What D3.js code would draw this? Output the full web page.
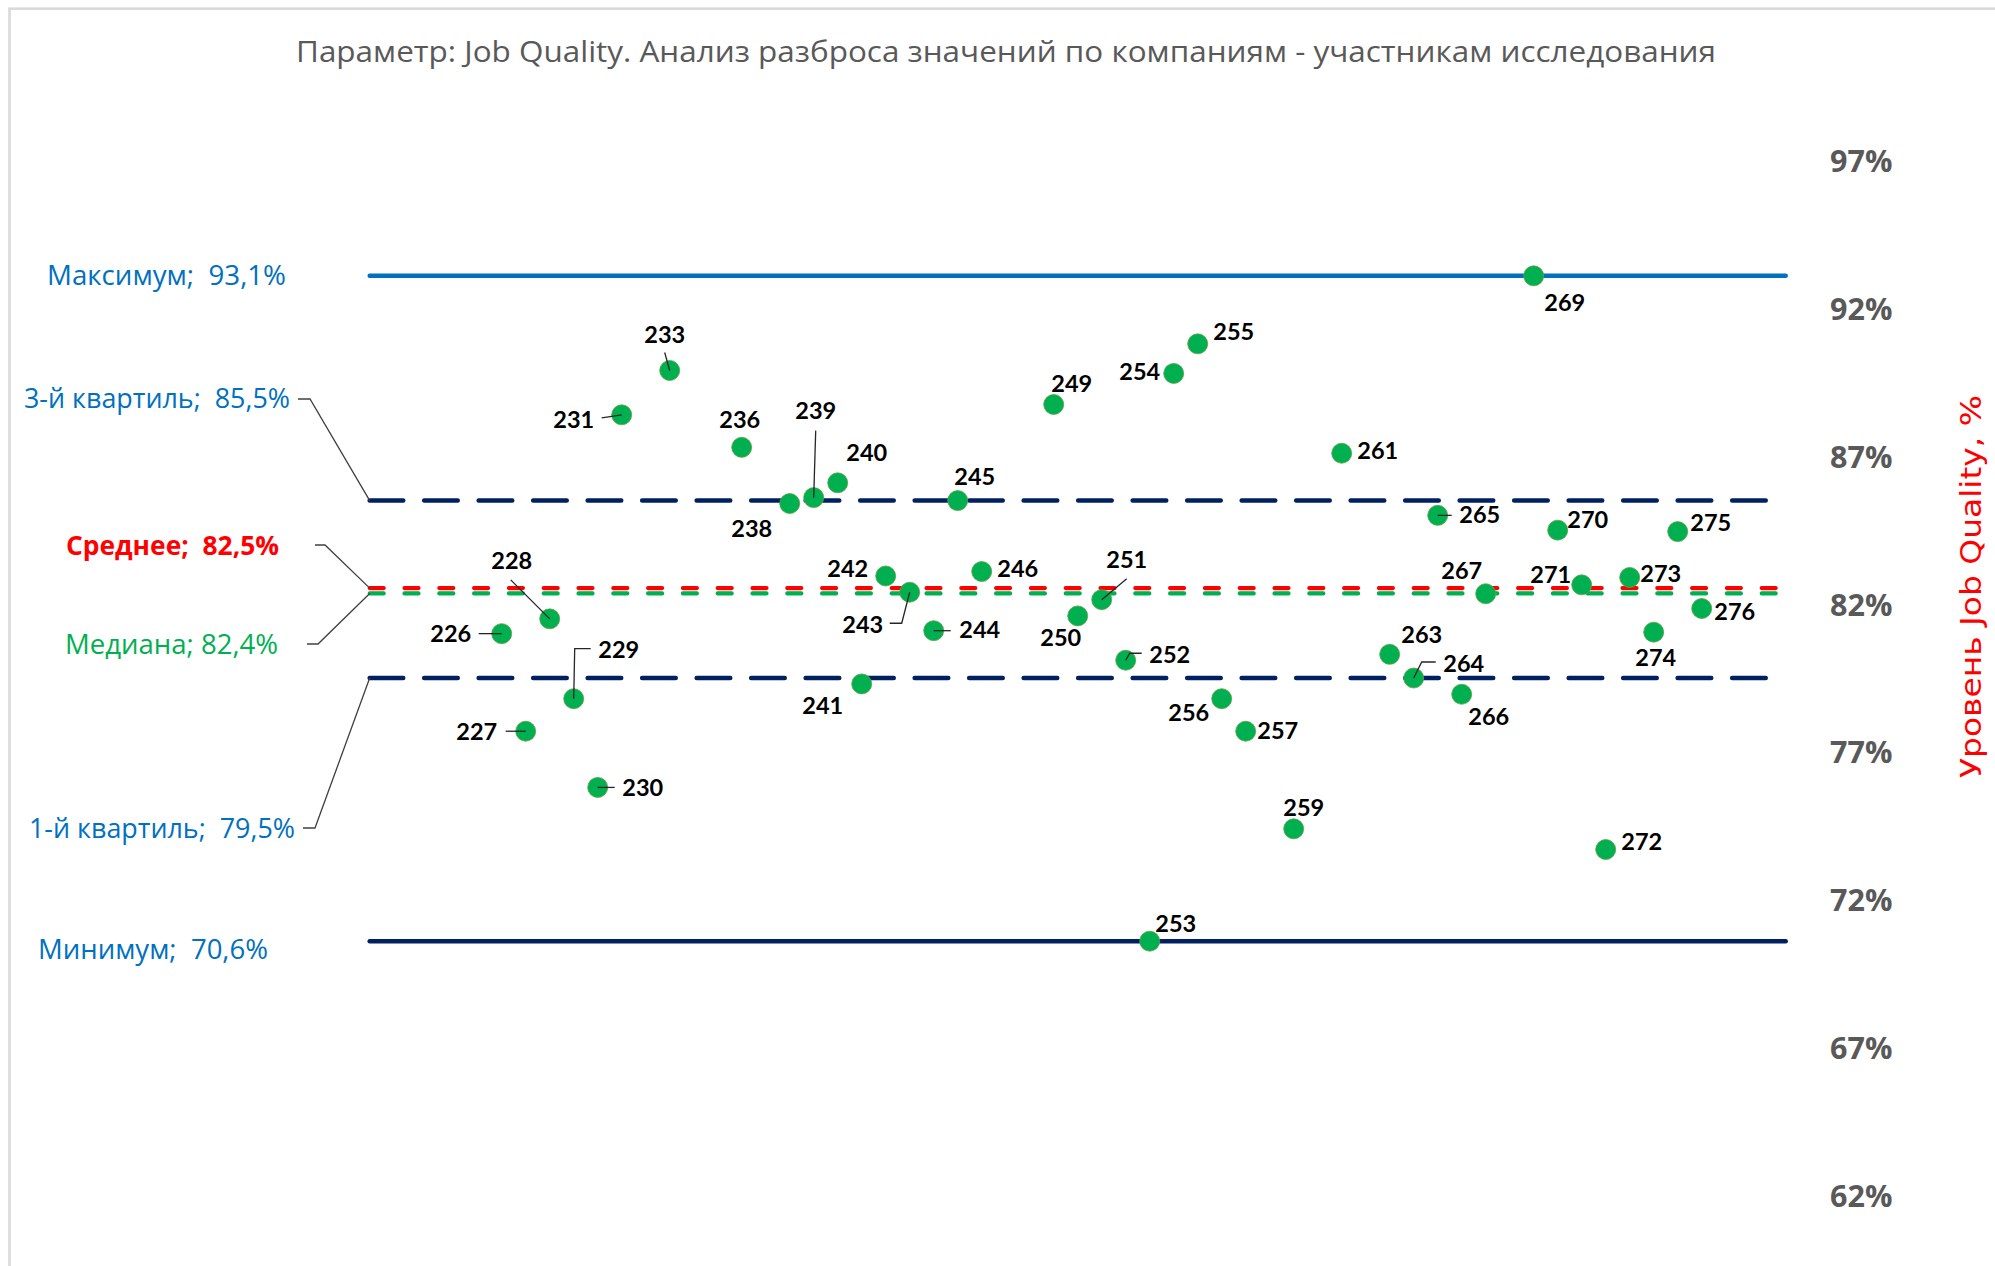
<!DOCTYPE html>
<html lang="ru">
<head>
<meta charset="utf-8">
<title>Job Quality — разброс значений по компаниям</title>
<script src="https://cdn.jsdelivr.net/npm/d3@7/dist/d3.min.js"></script>
<style>
  html, body { margin: 0; padding: 0; background: #ffffff; }
  svg { display: block; }
  text { white-space: pre; }
</style>
</head>
<body>
<script>
// ---- Data -----------------------------------------------------------------
const chartTitle = "Параметр: Job Quality. Анализ разброса значений по компаниям - участникам исследования";
const axisTitle = "Уровень Job Quality, %";

// Company codes (participants) and their Job Quality level
const companyIds = [226, 227, 228, 229, 230, 231, 233, 236, 238, 239, 240, 241, 242, 243, 244,
  245, 246, 249, 250, 251, 252, 253, 254, 255, 256, 257, 259, 261, 263, 264, 265, 266, 267,
  269, 270, 271, 272, 273, 274, 275, 276];
const jobQuality = [0.810, 0.777, 0.815, 0.788, 0.758, 0.884, 0.899, 0.873, 0.854, 0.856, 0.861,
  0.793, 0.8295, 0.824, 0.811, 0.855, 0.831, 0.8875, 0.816, 0.8215, 0.801, 0.706, 0.898, 0.908,
  0.788, 0.777, 0.744, 0.871, 0.803, 0.795, 0.850, 0.7895, 0.8235, 0.931, 0.845, 0.8265, 0.737,
  0.829, 0.8105, 0.8445, 0.8185];

// Summary statistics drawn as horizontal reference lines
const statNames = ["Максимум", "3-й квартиль", "Среднее", "Медиана", "1-й квартиль", "Минимум"];
const statValues = [0.931, 0.855, 0.8254, 0.8236, 0.795, 0.706];

// Right axis ticks
const yTicks = [0.62, 0.67, 0.72, 0.77, 0.82, 0.87, 0.92, 0.97];

// Company-code extent covered by the reference lines
const lineSpan = [220.5, 279.5];

// ---- Layout & styles ----------------------------------------------------
const W = 1995, H = 1266;
const labelFont = "Lato, 'Open Sans', sans-serif";
const textFont = "'Open Sans', 'Noto Sans', sans-serif";

const statStyles = [
  { color: "#0070C0", stroke: "#0070C0", width: 4.5, dash: null,        bold: false, sep: ";  " },
  { color: "#0070C0", stroke: "#002060", width: 4.6, dash: "33.5,21",   bold: false, sep: ";  " },
  { color: "#FF0000", stroke: "#FF0000", width: 4.2, dash: "14,20.8",   bold: true,  sep: ";  " },
  { color: "#00B050", stroke: "#00B050", width: 4.2, dash: "14,20.8",   bold: false, sep: "; " },
  { color: "#0070C0", stroke: "#002060", width: 4.6, dash: "33.5,21",   bold: false, sep: ";  " },
  { color: "#0070C0", stroke: "#002060", width: 4.5, dash: null,        bold: false, sep: ";  " }
];
// left-side caption placement: x, baseline, rendered width, optional leader start [x, y, elbowX]
const statLabelLayout = [
  { x: 47, base: 285, w: 239 },
  { x: 24, base: 408, w: 266, lead: [298, 399, 310] },
  { x: 66, base: 555, w: 213, lead: [315, 545, 325] },
  { x: 65, base: 654, w: 213, lead: [307, 644, 318] },
  { x: 29, base: 838, w: 266, lead: [303, 828, 315] },
  { x: 38, base: 959, w: 230 }
];

// data label offsets from the marker centre, with optional leader polylines
const labelLayout = {
  226: { dx: -51, dy: 0,   lead: [[-23, 0]] },
  227: { dx: -49, dy: 0,   lead: [[-20, 0]] },
  228: { dx: -38, dy: -58, lead: [[-39, -39]] },
  229: { dx: 45,  dy: -49, lead: [[1, -50], [17, -50]] },
  230: { dx: 45,  dy: 0,   lead: [[17, 0]] },
  231: { dx: -48, dy: 5,   lead: [[-20, 3]] },
  233: { dx: -5,  dy: -36, lead: [[-5, -18]] },
  236: { dx: -2,  dy: -28 },
  238: { dx: -38, dy: 25 },
  239: { dx: 2,   dy: -87, lead: [[2, -67]] },
  240: { dx: 29,  dy: -30 },
  241: { dx: -39, dy: 22 },
  242: { dx: -38, dy: -7 },
  243: { dx: -47, dy: 32,  lead: [[-8, 31], [-20, 31]] },
  244: { dx: 46,  dy: -1,  lead: [[17, 0]] },
  245: { dx: 17,  dy: -24 },
  246: { dx: 36,  dy: -3 },
  249: { dx: 18,  dy: -21 },
  250: { dx: -17, dy: 22 },
  251: { dx: 25,  dy: -40, lead: [[25, -21]] },
  252: { dx: 44,  dy: -6,  lead: [[4, -7], [16, -7]] },
  253: { dx: 26,  dy: -18 },
  254: { dx: -34, dy: -2 },
  255: { dx: 36,  dy: -12 },
  256: { dx: -33, dy: 14 },
  257: { dx: 32,  dy: -1 },
  259: { dx: 10,  dy: -21 },
  261: { dx: 36,  dy: -3 },
  263: { dx: 32,  dy: -20 },
  264: { dx: 50,  dy: -14, lead: [[8, -16], [22, -16]] },
  265: { dx: 42,  dy: -1,  lead: [[14, 0]] },
  266: { dx: 27,  dy: 22 },
  267: { dx: -24, dy: -23 },
  269: { dx: 31,  dy: 27 },
  270: { dx: 30,  dy: -11 },
  271: { dx: -31, dy: -10 },
  272: { dx: 36,  dy: -8 },
  273: { dx: 31,  dy: -4 },
  274: { dx: 2,   dy: 25 },
  275: { dx: 33,  dy: -9 },
  276: { dx: 33,  dy: 3 }
};

// ---- Scales ---------------------------------------------------------------
const x = d3.scaleLinear().domain(lineSpan).range([369.7, 1785.7]);
const y = d3.scaleLinear().domain([0.62, 0.97]).range([1195.5, 160.5]);

const ruLocale = d3.formatLocale({ decimal: ",", thousands: " ", grouping: [3], currency: ["", " ₽"] });
const pct1 = ruLocale.format(".1%");
const pct0 = ruLocale.format(".0%");

const points = companyIds.map((id, i) => ({ id, v: jobQuality[i] }));

// ---- Canvas ---------------------------------------------------------------
const svg = d3.select("body").append("svg")
  .attr("width", W).attr("height", H)
  .attr("viewBox", `0 0 ${W} ${H}`);

svg.append("rect").attr("width", W).attr("height", H).attr("fill", "#ffffff");

// chart frame
svg.append("rect")
  .attr("x", 9.5).attr("y", 8.7)
  .attr("width", W + 40).attr("height", H + 40)
  .attr("fill", "none").attr("stroke", "#d9d9d9").attr("stroke-width", 2.6);

// title
svg.append("text")
  .attr("x", 296).attr("y", 62)
  .attr("textLength", 1420).attr("lengthAdjust", "spacingAndGlyphs")
  .attr("font-family", textFont).attr("font-size", 30)
  .attr("fill", "#595959")
  .text(chartTitle);

// right value axis
const yAxis = d3.axisRight(y)
  .tickValues(yTicks)
  .tickSize(0)
  .tickPadding(0)
  .tickFormat(pct0);

const axisG = svg.append("g")
  .attr("transform", "translate(1830,0)")
  .call(yAxis);
axisG.select(".domain").remove();
axisG.selectAll("text")
  .attr("dy", "0.36em")
  .attr("font-family", textFont)
  .attr("font-weight", 700)
  .attr("font-size", 30.5)
  .attr("fill", "#595959");

// axis title
svg.append("text")
  .attr("transform", `translate(1981,${(395 + 778) / 2}) rotate(-90)`)
  .attr("text-anchor", "middle")
  .attr("textLength", 383).attr("lengthAdjust", "spacingAndGlyphs")
  .attr("font-family", "'DejaVu Sans', Verdana, sans-serif")
  .attr("font-size", 28)
  .attr("fill", "#FF0000")
  .text(axisTitle);

// ---- Reference lines ------------------------------------------------------
const hLine = d3.line().x(d => x(d[0])).y(d => y(d[1]));

svg.append("g").selectAll("path")
  .data(statValues.map((v, i) => ({ v, s: statStyles[i] })))
  .join("path")
  .attr("d", d => hLine([[lineSpan[0], d.v], [lineSpan[1], d.v]]))
  .attr("fill", "none")
  .attr("stroke", d => d.s.stroke)
  .attr("stroke-width", d => d.s.width)
  .attr("stroke-linecap", "round")
  .attr("stroke-dasharray", d => d.s.dash);

// captions for the reference lines
const capG = svg.append("g");
statValues.forEach((v, i) => {
  const s = statStyles[i], L = statLabelLayout[i];
  capG.append("text")
    .attr("x", L.x).attr("y", L.base)
    .attr("textLength", L.w).attr("lengthAdjust", "spacingAndGlyphs")
    .attr("font-family", textFont)
    .attr("font-size", 26.5)
    .attr("font-weight", s.bold ? 700 : 400)
    .attr("fill", s.color)
    .text(statNames[i] + s.sep + pct1(v));
  if (L.lead) {
    const [x0, y0, x1] = L.lead;
    capG.append("path")
      .attr("d", d3.line()([[x0, y0], [x1, y0], [x(lineSpan[0]), y(v)]]))
      .attr("fill", "none")
      .attr("stroke", "#404040")
      .attr("stroke-width", 1.3);
  }
});

// ---- Company markers --------------------------------------------------------
svg.append("g").selectAll("circle")
  .data(points)
  .join("circle")
  .attr("cx", d => x(d.id))
  .attr("cy", d => y(d.v))
  .attr("r", 10)
  .attr("fill", "#00B050")
  .attr("stroke", "#5f9f45")
  .attr("stroke-width", 0.8);

// leader lines from labels to markers
svg.append("g").selectAll("path")
  .data(points.filter(d => labelLayout[d.id] && labelLayout[d.id].lead))
  .join("path")
  .attr("d", d => {
    const cx = x(d.id), cy = y(d.v);
    const pts = [[cx, cy]].concat(labelLayout[d.id].lead.map(p => [cx + p[0], cy + p[1]]));
    return d3.line()(pts);
  })
  .attr("fill", "none")
  .attr("stroke", "#262626")
  .attr("stroke-width", 1.3);

// data labels (company codes)
svg.append("g").selectAll("text")
  .data(points)
  .join("text")
  .attr("x", d => x(d.id) + (labelLayout[d.id] ? labelLayout[d.id].dx : 0))
  .attr("y", d => y(d.v) + (labelLayout[d.id] ? labelLayout[d.id].dy : -25))
  .attr("dy", "0.36em")
  .attr("text-anchor", "middle")
  .attr("font-family", labelFont)
  .attr("font-weight", 700)
  .attr("font-size", 23.5)
  .attr("fill", "#000000")
  .text(d => d.id);
</script>
</body>
</html>
